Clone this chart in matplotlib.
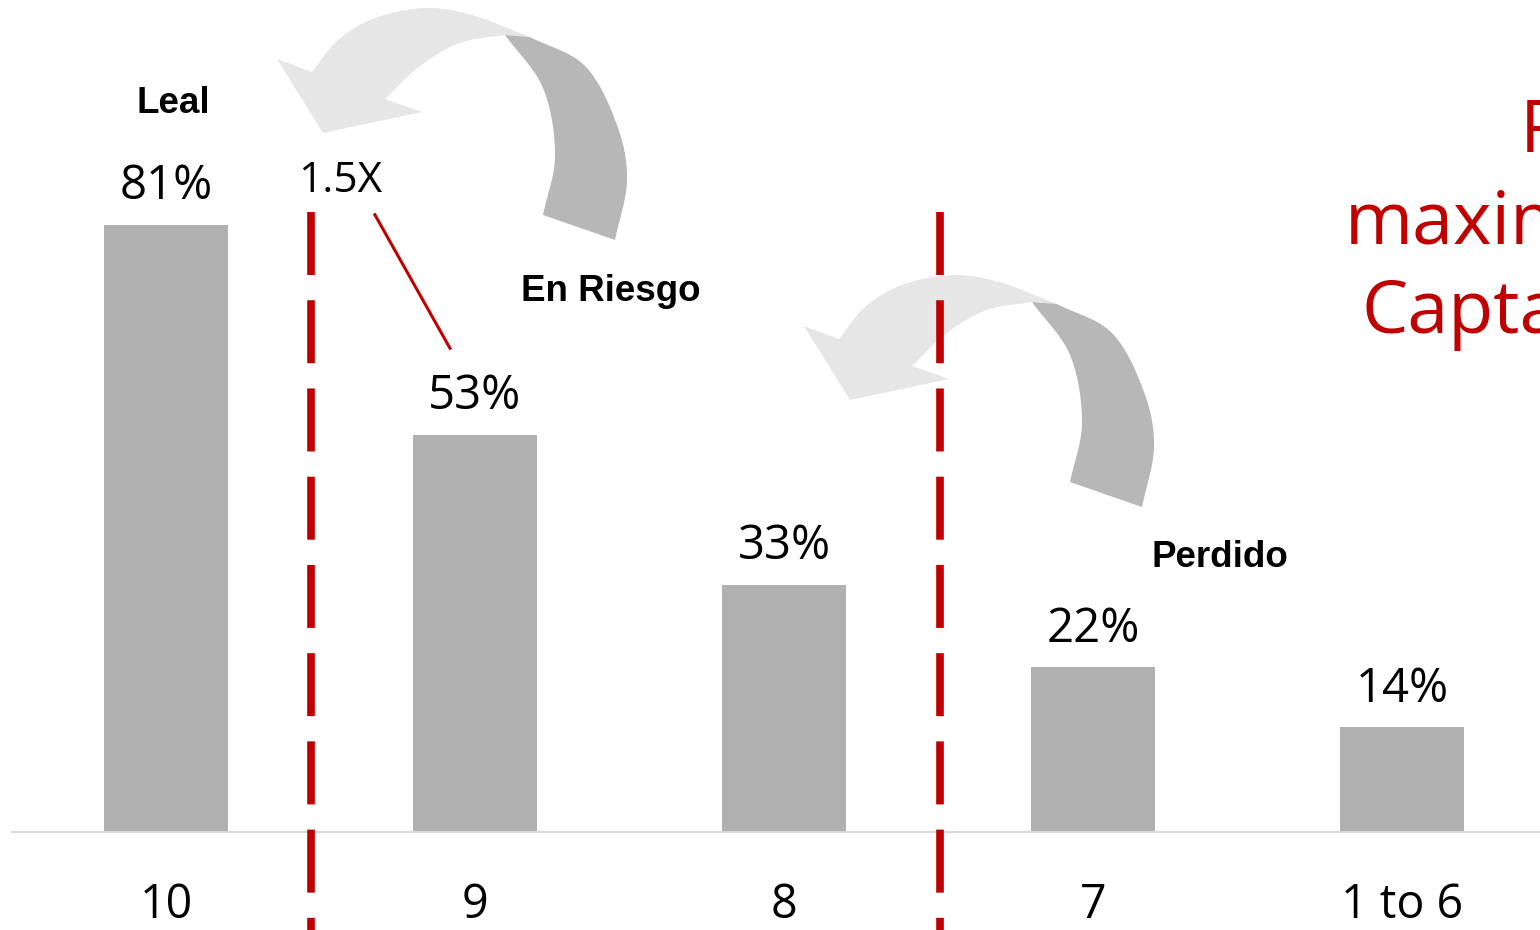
import numpy as np
import matplotlib
matplotlib.use("Agg")
import matplotlib.pyplot as plt
from matplotlib.patches import Polygon

# ---- data ----
categories = ["10", "9", "8", "7", "1 to 6"]
values = [81, 53, 33, 22, 14]
value_labels = ["81%", "53%", "33%", "22%", "14%"]
group_labels = ["Leal", "En Riesgo", "Perdido"]
ratio_label = "1.5X"
side_text = ["Para", "maximizar", "Captación"]

W, H = 1540, 930
BAR_C = "#b0b0b0"
RED = "#c00000"
FONT = "Open Sans"

fig = plt.figure(figsize=(W / 100, H / 100), dpi=100)
ax = fig.add_axes([11.5 / W, 98 / H, 1545 / W, 750 / H])
ax.set_xlim(-0.5, 4.5)
ax.set_ylim(0, 100)
ax.patch.set_visible(False)

x = np.arange(len(categories))
ax.bar(x, values, width=0.4, color=BAR_C, zorder=2)

for s in ["top", "right", "left"]:
    ax.spines[s].set_visible(False)
ax.spines["bottom"].set_color("#d9d9d9")
ax.spines["bottom"].set_linewidth(1.5)
ax.set_yticks([])
ax.set_xticks([])

px = 0.72  # points per pixel at 100 dpi
for i, (v, lab) in enumerate(zip(values, value_labels)):
    ax.annotate(lab, (i, v), xytext=(0, 25.5 * px), textcoords="offset points",
                ha="center", va="baseline", fontsize=34, family=FONT, color="black")
for i, c in enumerate(categories):
    ax.annotate(c, (i, 0), xytext=(0, -86 * px), textcoords="offset points",
                ha="center", va="baseline", fontsize=33.5, family=FONT, color="black",
                annotation_clip=False)

# group labels
gpos = [(0.023, (832 - 113) / 7.5), (1.44, (832 - 301) / 7.5), (3.41, (832 - 567) / 7.5)]
for lab, (gx, gy) in zip(group_labels, gpos):
    ax.text(gx, gy, lab, ha="center", va="baseline", fontsize=26.5,
            family="Liberation Sans", fontweight="bold", clip_on=False)

ax.text(0.563, (832 - 192) / 7.5, ratio_label, ha="center", va="baseline",
        fontsize=30.5, family=FONT, clip_on=False)
ax.plot([0.676, 0.919], [82.3, 64.5], color=RED, lw=2.2, zorder=4, clip_on=False)

# dashed separators
for xv in [0.47, 2.505]:
    ax.plot([xv, xv], [82.7, -14], color=RED, lw=5.5, dashes=(8.25, 3.3),
            zorder=4, clip_on=False, solid_capstyle="butt", dash_capstyle="butt")


# ---- curved arrows (decoration) ----
def catmull(pts, n=24):
    pts = np.asarray(pts, float)
    P = np.vstack([2 * pts[0] - pts[1], pts, 2 * pts[-1] - pts[-2]])
    out = []
    for i in range(1, len(P) - 2):
        p0, p1, p2, p3 = P[i - 1], P[i], P[i + 1], P[i + 2]
        t = np.linspace(0, 1, n, endpoint=False)[:, None]
        seg = 0.5 * ((2 * p1) + (-p0 + p2) * t + (2 * p0 - 5 * p1 + 4 * p2 - p3) * t ** 2
                     + (-p0 + 3 * p1 - 3 * p2 + p3) * t ** 3)
        out.append(seg)
    out.append(pts[-1][None, :])
    return np.vstack(out)


light_outer = [(530, 37), (472, 15), (425, 8), (375, 18), (338, 40), (312, 72)]
light_head = [(277, 59), (323, 133), (422, 112)]
light_inner = [(385, 99), (420, 66), (460, 43), (505, 35)]
dark_outer = [(530, 37), (585, 66), (617, 125), (627, 180), (615, 240)]
dark_inner = [(543, 215), (555, 155), (543, 88), (505, 35)]


def to_fig(pts, dx, dy):
    pts = np.asarray(pts, float)
    return np.column_stack([(pts[:, 0] + dx) / W, 1 - (pts[:, 1] + dy) / H])


def draw_arrow(dx, dy):
    light = np.vstack([catmull(light_outer), np.array(light_head), catmull(light_inner)])
    dark = np.vstack([catmull(dark_outer), catmull(dark_inner)])
    for pts, col in [(light, "#e6e6e6"), (dark, "#b7b7b7")]:
        poly = Polygon(to_fig(pts, dx, dy), closed=True, facecolor=col, edgecolor="none",
                       transform=fig.transFigure, zorder=1, clip_on=False)
        ax.add_patch(poly)


draw_arrow(0, 0)
draw_arrow(527, 267)

# red side text (clipped by figure edge, as in the reference)
for txt, (tx, ty) in zip(side_text, [(1520, 152), (1345, 243), (1362, 333)]):
    fig.text(tx / W, 1 - ty / H, txt, ha="left", va="baseline", fontsize=53,
             family=FONT, color=RED)

fig.savefig("out.png", dpi=100)
